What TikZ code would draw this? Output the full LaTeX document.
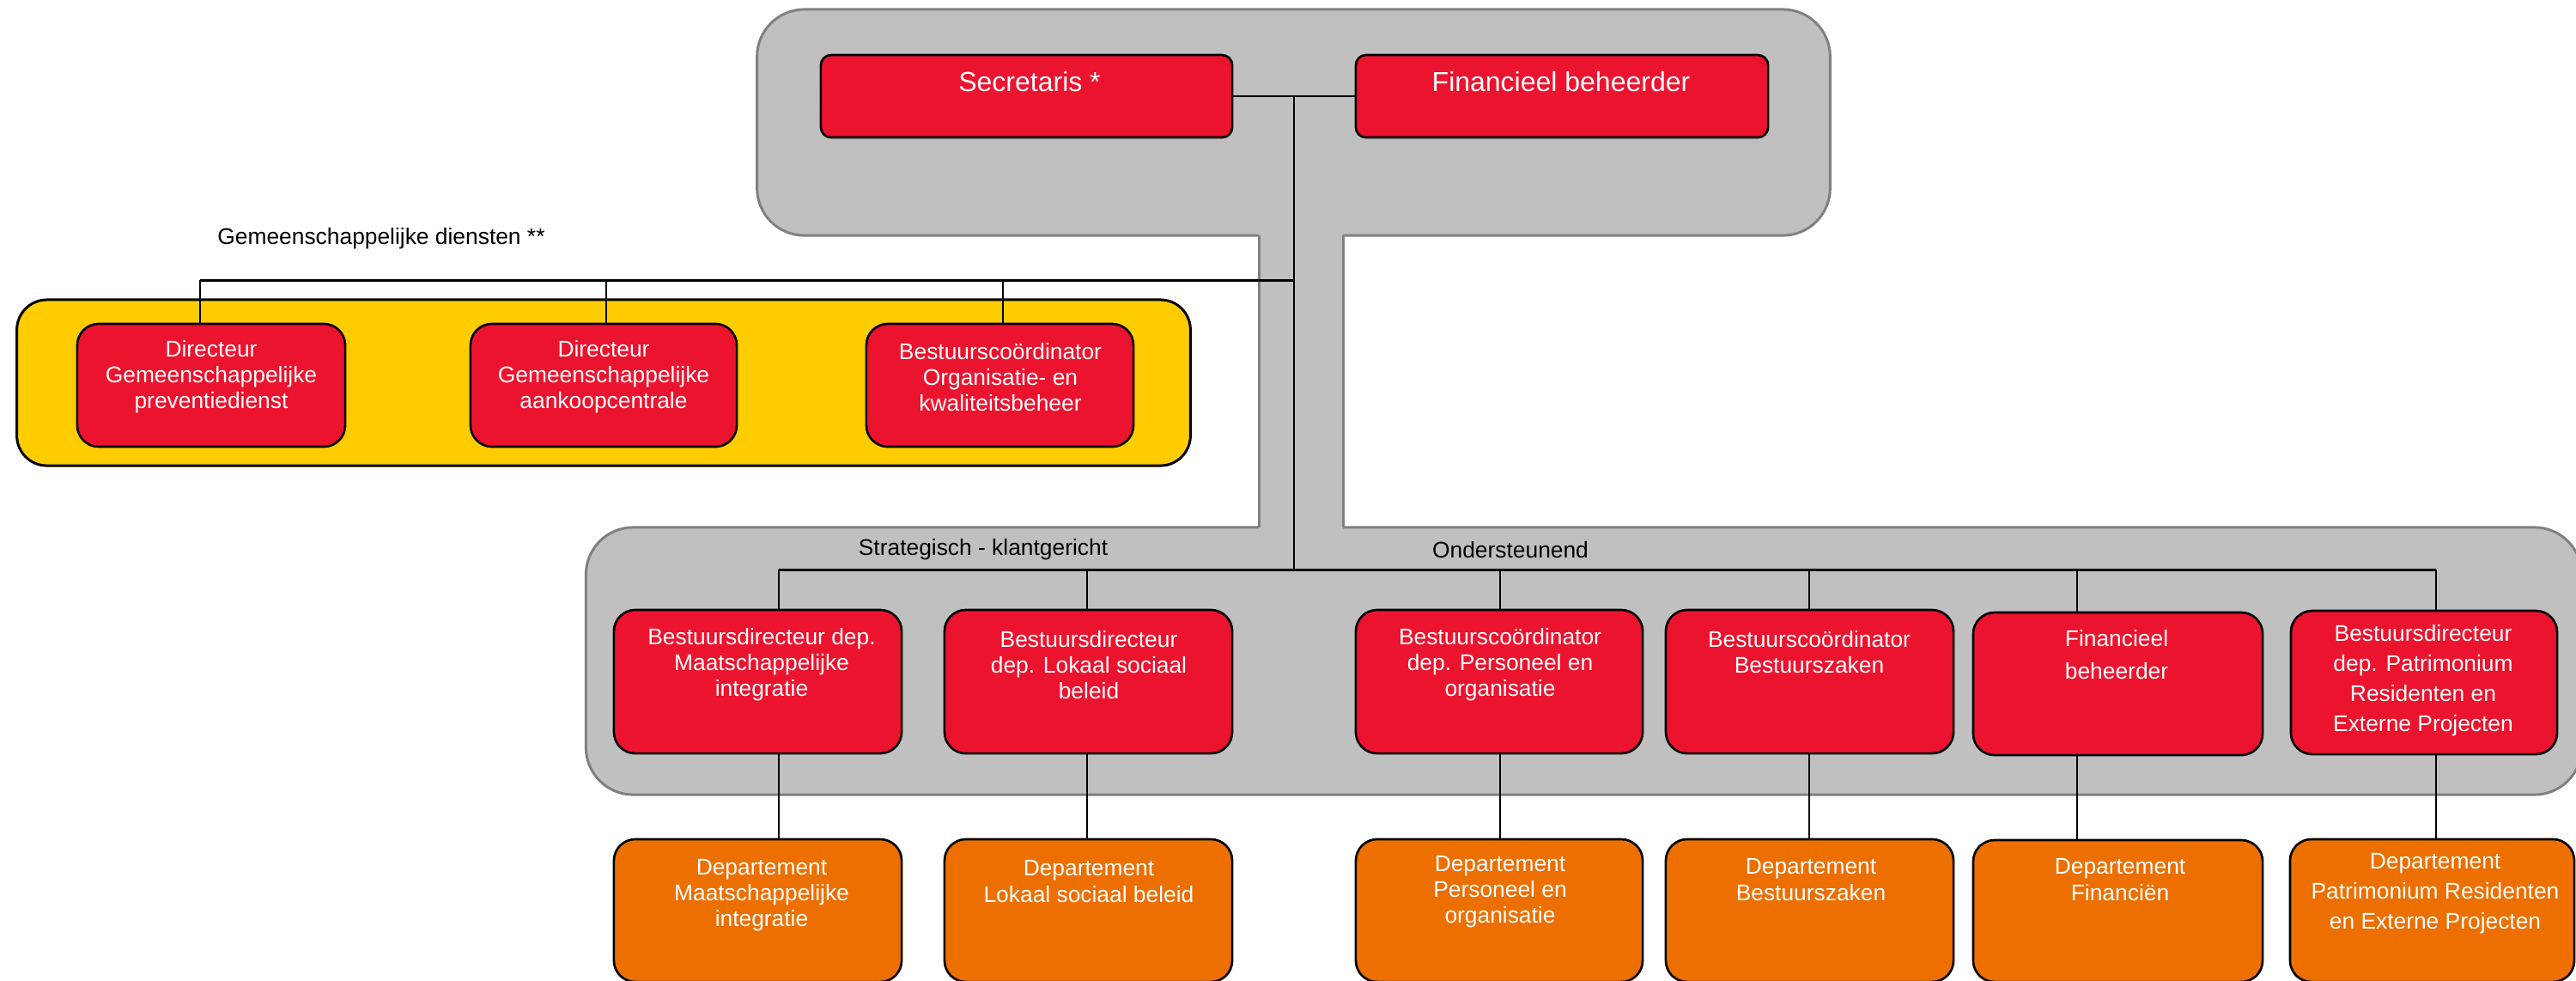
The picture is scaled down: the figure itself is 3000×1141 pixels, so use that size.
\documentclass[tikz,border=0pt]{standalone}
\usepackage{fontspec}
\setmainfont{Liberation Sans}
\usetikzlibrary{calc}
\definecolor{orgred}{RGB}{236,19,46}
\definecolor{orgorange}{RGB}{236,111,0}
\definecolor{orgyellow}{RGB}{255,204,0}
\definecolor{panelgray}{RGB}{192,192,192}
\definecolor{paneledge}{RGB}{128,128,128}
\begin{document}
\begin{tikzpicture}[x=0.01cm,y=-0.01cm,
  panel/.style={draw=paneledge,line width=0.85pt,fill=panelgray,rounded corners=0.55cm,inner sep=0pt},
  ybox/.style={draw=black,line width=0.85pt,fill=orgyellow,rounded corners=0.35cm,inner sep=0pt},
  redbox/.style={draw=black,line width=0.75pt,fill=orgred,rounded corners=0.25cm,inner sep=0pt},
  topbox/.style={redbox,rounded corners=0.12cm},
  orbox/.style={draw=black,line width=0.75pt,fill=orgorange,rounded corners=0.25cm,inner sep=0pt},
  wtext/.style={text=white,align=center,inner sep=0pt,font=\fontsize{7.5pt}{8.55pt}\selectfont},
  wtextB/.style={wtext,font=\fontsize{7.5pt}{9.96pt}\selectfont},
  wtextC/.style={wtext,font=\fontsize{7.5pt}{10.8pt}\selectfont},
  toptext/.style={text=white,inner sep=0pt,font=\fontsize{9.1pt}{11pt}\selectfont},
  lbl/.style={text=black,inner sep=0pt,font=\fontsize{7.5pt}{9pt}\selectfont},
  conn/.style={draw=black,line width=0.45pt},
  bus/.style={draw=black,line width=0.85pt}]
\useasboundingbox (0,0) rectangle (3000,1141);

% grey panels
\node[panel,minimum width=12.49cm,minimum height=2.63cm] (ptop) at (1506.5,142.5) {};
\node[panel,minimum width=23.23cm,minimum height=3.11cm] (pbot) at (1844.5,769.5) {};
\fill[panelgray] (1466,268) rectangle (1564,620);
\draw[paneledge,line width=0.85pt] (1466,274) -- (1466,614) (1564,274) -- (1564,614);

% yellow panel
\node[ybox,minimum width=13.66cm,minimum height=1.93cm] (ypanel) at (703,445.5) {};

% top boxes
\node[topbox,minimum width=4.79cm,minimum height=0.96cm] (sec) at (1195.5,112) {};
\node[topbox,minimum width=4.80cm,minimum height=0.96cm] (fin) at (1819,112) {};
\node[toptext] (tsec) at (1199,95) {Secretaris *};
\node[toptext] (tfin) at (1818,95) {Financieel beheerder};

% common services
\node[lbl] (lgem) at (444,278) {Gemeenschappelijke diensten **};
\node[redbox,minimum width=3.12cm,minimum height=1.43cm] (g1) at (246,448.5) {};
\node[redbox,minimum width=3.10cm,minimum height=1.43cm] (g2) at (703,448.5) {};
\node[redbox,minimum width=3.11cm,minimum height=1.43cm] (g3) at (1164.5,448.5) {};
\node[wtext] (tg1) at (246,439) {Directeur\\Gemeenschappelijke\\preventiedienst};
\node[wtext] (tg2) at (703,439) {Directeur\\Gemeenschappelijke\\aankoopcentrale};
\node[wtext] (tg3) at (1165,439) {Bestuurscoördinator\\Organisatie- en\\kwaliteitsbeheer};

% section labels
\node[lbl] (lstrat) at (1145,640) {Strategisch - klantgericht};
\node[lbl] (lond) at (1759,640) {Ondersteunend};

% department heads
\node[redbox,minimum width=3.35cm,minimum height=1.67cm] (rA) at (882.5,793.5) {};
\node[redbox,minimum width=3.35cm,minimum height=1.67cm] (rB) at (1267.5,793.5) {};
\node[redbox,minimum width=3.34cm,minimum height=1.67cm] (rC) at (1746,793.5) {};
\node[redbox,minimum width=3.35cm,minimum height=1.67cm] (rD) at (2107.5,793.5) {};
\node[redbox,minimum width=3.37cm,minimum height=1.66cm] (rE) at (2466.5,796) {};
\node[redbox,minimum width=3.10cm,minimum height=1.67cm] (rF) at (2823,794.5) {};
\node[wtext] (trA) at (887,774) {Bestuursdirecteur dep.\\Maatschappelijke\\integratie};
\node[wtext] (trB) at (1268,774) {Bestuursdirecteur\\dep. Lokaal sociaal\\beleid};
\node[wtext] (trC) at (1747,774) {Bestuurscoördinator\\dep. Personeel en\\organisatie};
\node[wtext] (trD) at (2107,759) {Bestuurscoördinator\\Bestuurszaken};
\node[wtextC] (trE) at (2465,762) {Financieel\\beheerder};
\node[wtextB] (trF) at (2822,792) {Bestuursdirecteur\\dep. Patrimonium\\Residenten en\\Externe Projecten};

% departments
\node[orbox,minimum width=3.35cm,minimum height=1.66cm] (oA) at (882.5,1060) {};
\node[orbox,minimum width=3.35cm,minimum height=1.66cm] (oB) at (1267.5,1060) {};
\node[orbox,minimum width=3.34cm,minimum height=1.66cm] (oC) at (1746,1060) {};
\node[orbox,minimum width=3.35cm,minimum height=1.66cm] (oD) at (2107.5,1060) {};
\node[orbox,minimum width=3.37cm,minimum height=1.65cm] (oE) at (2466.5,1060.5) {};
\node[orbox,minimum width=3.31cm,minimum height=1.66cm] (oF) at (2832.5,1060) {};
\node[wtext] (toA) at (887,1042) {Departement\\Maatschappelijke\\integratie};
\node[wtext] (toB) at (1268,1026) {Departement\\Lokaal sociaal beleid};
\node[wtext] (toC) at (1747,1038) {Departement\\Personeel en\\organisatie};
\node[wtext] (toD) at (2109,1024) {Departement\\Bestuurszaken};
\node[wtext] (toE) at (2469,1024) {Departement\\Financiën};
\node[wtextB] (toF) at (2836,1040) {Departement\\Patrimonium Residenten\\en Externe Projecten};

% connectors
\coordinate (jtop) at ($(sec.east)!0.5!(fin.west)$);
\coordinate (jmid) at (1507,326);
\coordinate (jbot) at (1507,663);
\draw[conn] (sec.east) -- (fin.west);
\draw[conn] (jtop) -- (jbot);

\coordinate (gA) at (233,326);
\coordinate (gB) at (706,326);
\coordinate (gC) at (1168,326);
\draw[bus] (gA) -- (jmid);
\draw[conn] (gA) -- (gA |- g1.north);
\draw[conn] (gB) -- (gB |- g2.north);
\draw[conn] (gC) -- (gC |- g3.north);

\coordinate (cA) at (907,663);
\coordinate (cB) at (1266,663);
\coordinate (cC) at (1747,663);
\coordinate (cD) at (2107,663);
\coordinate (cE) at (2419,663);
\coordinate (cF) at (2837,663);
\draw[bus] (cA) -- (cF);
\foreach \c/\r/\o in {cA/rA/oA,cB/rB/oB,cC/rC/oC,cD/rD/oD,cE/rE/oE,cF/rF/oF}{
  \draw[conn] (\c) -- (\c |- \r.north);
  \draw[conn] (\c |- \r.south) -- (\c |- \o.north);
}
\end{tikzpicture}
\end{document}
